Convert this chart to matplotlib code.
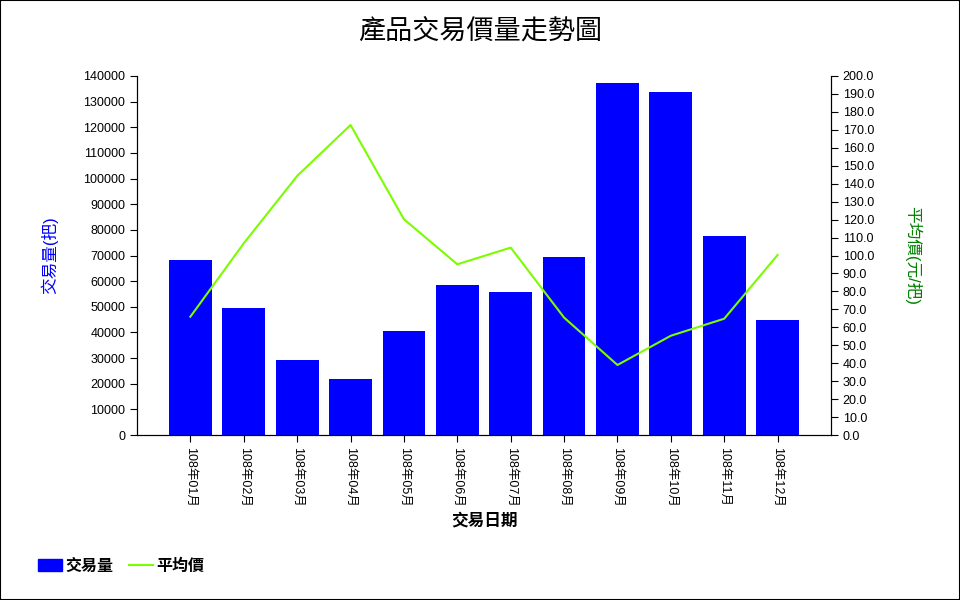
import matplotlib
matplotlib.use("Agg")
import matplotlib.pyplot as plt
from matplotlib.patches import Rectangle
from matplotlib.ticker import MultipleLocator, FormatStrFormatter

plt.rcParams["font.family"] = ["Liberation Sans", "Noto Sans CJK TC", "DejaVu Sans"]

# data
months = ["108年01月", "108年02月", "108年03月", "108年04月", "108年05月", "108年06月",
          "108年07月", "108年08月", "108年09月", "108年10月", "108年11月", "108年12月"]
volume = [68200, 49500, 29300, 21800, 40600, 58500, 55800, 69400, 137300, 133800, 77600, 44800]
avg_price = [65.9, 106.8, 144.3, 172.7, 120.2, 95.1, 104.4, 65.4, 39.0, 55.3, 64.8, 100.3]

fig = plt.figure(figsize=(9.6, 6), dpi=100)
ax = fig.add_axes([137 / 960, 1 - 435 / 600, (831 - 137) / 960, (435 - 76) / 600])
ax2 = ax.twinx()

x = list(range(len(months)))
ax.bar(x, volume, width=0.8, color="#0000ff", zorder=2)
ax2.plot(x, avg_price, color="#7cfc00", lw=1.5, zorder=3)

ax.set_xlim(-1.0, 12.0)
ax.set_ylim(0, 140000)
ax2.set_ylim(0, 200)
ax.yaxis.set_major_locator(MultipleLocator(10000))
ax2.yaxis.set_major_locator(MultipleLocator(10))
ax2.yaxis.set_major_formatter(FormatStrFormatter("%.1f"))

ax.set_xticks(x)
ax.set_xticklabels(months, rotation=270, fontsize=9)
ax.tick_params(axis="both", labelsize=9, length=5, color="black")
ax2.tick_params(axis="y", labelsize=9, length=5, color="black")

for a in (ax, ax2):
    a.spines["top"].set_visible(False)

ax.set_ylabel("交易量(把)", color="#0000ff", fontsize=12, labelpad=18)
ax2.set_ylabel("平均價(元/把)", color="#008000", fontsize=12, rotation=270, labelpad=34)
ax.set_xlabel("交易日期", fontsize=12, fontweight="bold", labelpad=4)

fig.text(0.5, 1 - 33 / 600, "產品交易價量走勢圖", ha="center", va="center", fontsize=19.5)

handles = [Rectangle((0, 0), 1, 1, color="#0000ff"),
           plt.Line2D([0], [0], color="#7cfc00", lw=1.5)]
fig.legend(handles, ["交易量", "平均價"], loc="center left",
           bbox_to_anchor=(38 / 960, 1 - 566 / 600), ncol=2, frameon=False,
           borderaxespad=0, borderpad=0,
           prop={"weight": "bold", "size": 11.5}, handlelength=1.5, columnspacing=1.0,
           handletextpad=0.2)

fig.patches.append(Rectangle((0, 0), 1, 1, transform=fig.transFigure, fill=False,
                             edgecolor="black", lw=1.5))

fig.savefig("out.png", dpi=100)
